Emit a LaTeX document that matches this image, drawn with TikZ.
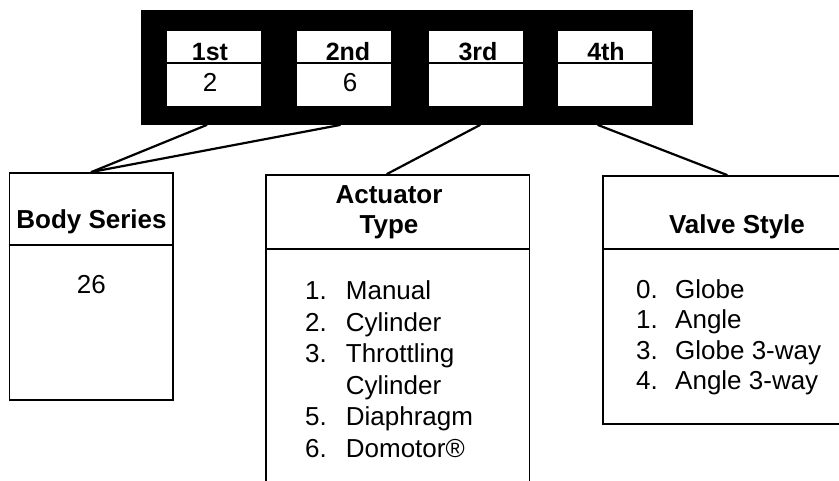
\documentclass[tikz,border=0pt]{standalone}
\usepackage{fontspec}
\setmainfont{Liberation Sans}
\begin{document}
\begin{tikzpicture}[x=1pt,y=-1pt,
  bar/.style={fill=black, draw=none, inner sep=0, minimum width=552pt, minimum height=115.5pt, anchor=north west},
  cell/.style={fill=white, draw=none, inner sep=0, minimum width=94pt, minimum height=75pt, anchor=north west},
  box/.style={draw=black, line width=1.5pt, fill=none, inner sep=0, anchor=north west},
  divider/.style={line width=1.3pt},
  link/.style={line width=2.2pt, line cap=round},
  head/.style={font=\fontsize{25}{30}\selectfont\bfseries, inner sep=0, anchor=base},
  title/.style={font=\fontsize{26}{30}\selectfont\bfseries, inner sep=0, anchor=base},
  val/.style={font=\fontsize{26}{30}\selectfont, inner sep=0, anchor=base},
  item/.style={font=\fontsize{26}{30}\selectfont, inner sep=0, anchor=base west},
]
\useasboundingbox (0,0) rectangle (839,480);
\clip (0,0) rectangle (839,480);

% black code bar
\node[bar] (bar) at (141,9.5) {};
\node[cell] (cell1) at (167,31) {};
\node[cell] (cell2) at (297,31) {};
\node[cell] (cell3) at (429,31) {};
\node[cell] (cell4) at (558,31) {};
\foreach \c in {cell1,cell2,cell3,cell4}
  \draw[divider] (\c.west |- 0,63) -- (\c.east |- 0,63);
\node[head] (h1) at (210,60) {1st};
\node[head] (h2) at (348,60) {2nd};
\node[head] (h3) at (478,60) {3rd};
\node[head] (h4) at (606,60) {4th};
\node[val] (v1) at (210,91) {2};
\node[val] (v2) at (350,91) {6};

% boxes
\node[box, minimum width=163.5pt, minimum height=227pt] (body) at (8.5,172) {};
\draw[divider] (body.west |- 0,245) -- (body.east |- 0,245);
\node[box, minimum width=263.5pt, minimum height=330pt] (act) at (265,174) {};
\draw[divider] (act.west |- 0,249) -- (act.east |- 0,249);
\node[box, minimum width=260pt, minimum height=248pt] (valve) at (602,175) {};
\draw[divider] (valve.west |- 0,249) -- (valve.east |- 0,249);

% connector ends
\coordinate (s1) at (206.7,125);
\coordinate (s2) at (340,125);
\coordinate (s3) at (480,125);
\coordinate (s4) at (598,125);
\coordinate (e1) at (91.5,172);
\coordinate (e3) at (387,174);
\coordinate (e4) at (727,175);
\draw[link] (s1) -- (e1);
\draw[link] (s2) -- (e1);
\draw[link] (s3) -- (e3);
\draw[link] (s4) -- (e4);

% body series
\node[title] (bt) at (91.5,228) {Body Series};
\node[val] (bv) at (91.3,293) {26};

% actuator type
\node[title] (at1) at (389,203) {Actuator};
\node[title] (at2) at (389,233) {Type};
\foreach \n/\t [count=\i] in {1./Manual,2./Cylinder,3./Throttling,/Cylinder,5./Diaphragm,6./Domotor®}{
  \node[item] (an\i) at (305,299.5+31.5*\i-31.5) {\n};
  \node[item] (ai\i) at (345.7,299.5+31.5*\i-31.5) {\t};
}

% valve style
\node[title] (vt) at (737,233) {Valve Style};
\foreach \n/\t [count=\i] in {0./Globe,1./Angle,3./Globe 3-way,4./Angle 3-way}{
  \node[item] (vn\i) at (636,298+30.5*\i-30.5) {\n};
  \node[item] (vi\i) at (675,298+30.5*\i-30.5) {\t};
}
\end{tikzpicture}
\end{document}
